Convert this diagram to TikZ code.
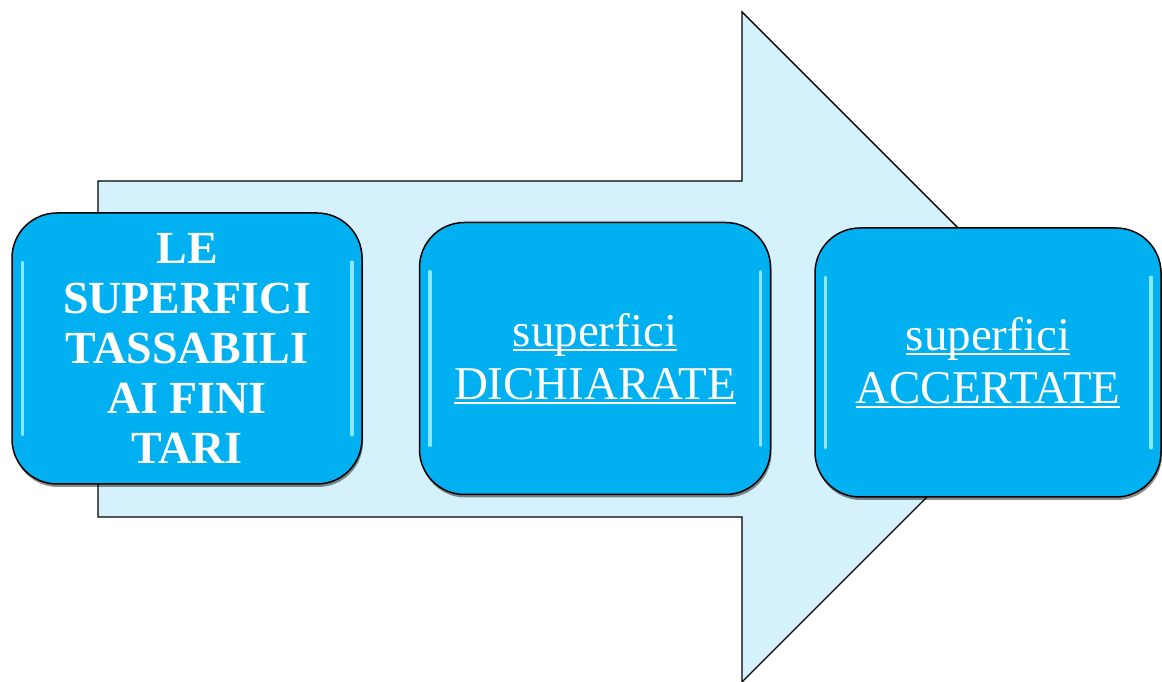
\documentclass[tikz,border=0pt]{standalone}
\usepackage{fontspec}
\setmainfont{Liberation Serif}
\usetikzlibrary{shadows,calc}
\definecolor{boxcyan}{HTML}{00B0F0}
\definecolor{arrowfill}{HTML}{D5F1FB}
\definecolor{glint}{HTML}{9AF0FF}
\newcommand\myul[1]{\setbox0\hbox{#1}\rlap{\rule[-4.5pt]{\wd0}{1.8pt}}\box0}
\tikzset{
  bigarrow/.style={fill=arrowfill, draw=black, line width=1.4pt, line join=miter},
  glossbox/.style={fill=boxcyan, draw=black, line width=1.5pt, rounded corners=45pt,
    inner sep=0pt, align=center, text=white,
    drop shadow={shadow xshift=1pt, shadow yshift=-3pt, opacity=0.45, fill=black}},
  glossline/.style={draw=glint, line width=3.5pt, line cap=round, opacity=0.9},
  boldtxt/.style={font=\fontsize{46}{50}\selectfont\bfseries},
  plaintxt/.style={font=\fontsize{47}{53}\selectfont}
}
\begin{document}
\begin{tikzpicture}[x=1pt,y=1pt]
\useasboundingbox (0,0) rectangle (1162,682);
% big arrow
\draw[bigarrow] (98,501) -- (742,501) -- (742,670) -- (1077,335) -- (742,0) -- (742,165) -- (98,165) -- cycle;
% boxes
\node[glossbox, boldtxt, minimum width=350pt, minimum height=271pt] (b1) at (187,333.5)
  {LE\\SUPERFICI\\TASSABILI\\AI FINI\\TARI};
\node[glossbox, plaintxt, minimum width=351pt, minimum height=272pt] (b2) at (595,323.5)
  {\myul{superfici}\\\myul{DICHIARATE}};
\node[glossbox, plaintxt, minimum width=346pt, minimum height=269pt] (b3) at (988,319.5)
  {\myul{superfici}\\\myul{ACCERTATE}};
% glossy highlights
\foreach \b in {b1,b2,b3}{
  \draw[glossline] ($(\b.north west)+(11,-50)$) -- ($(\b.south west)+(11,50)$);
  \draw[glossline] ($(\b.north east)+(-11,-50)$) -- ($(\b.south east)+(-11,50)$);
}
\end{tikzpicture}
\end{document}
